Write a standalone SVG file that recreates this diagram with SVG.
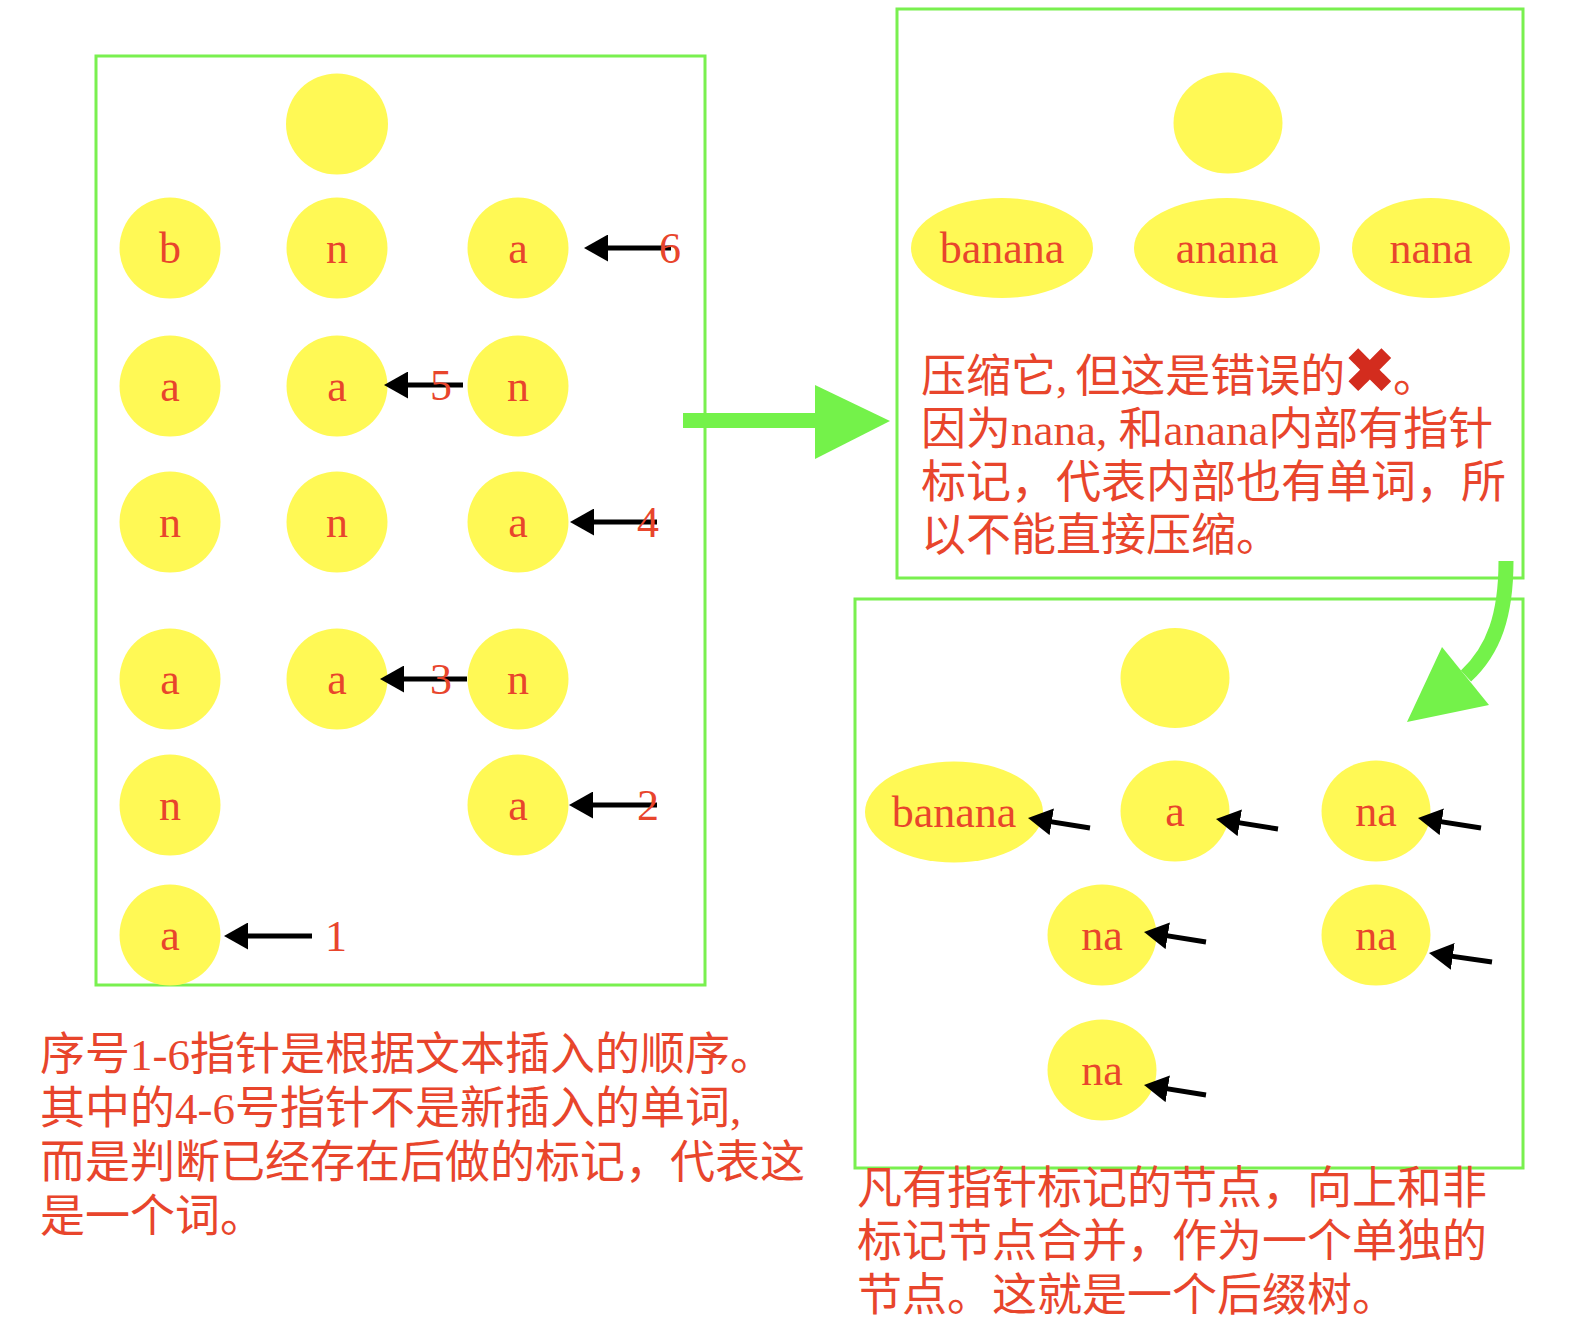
<svg xmlns="http://www.w3.org/2000/svg" width="1582" height="1339" viewBox="0 0 1582 1339">
<style>
.box{fill:none;stroke:#79F04F;stroke-width:3}
.nd{fill:#FFF955}
.lb{font-family:'Liberation Serif','Times New Roman',serif;font-size:44px;fill:#E8452C;text-anchor:middle}
.num{font-family:'Liberation Serif','Times New Roman',serif;font-size:44px;fill:#E8452C;text-anchor:middle}
.cap{font-family:'Liberation Serif','Noto Sans CJK SC',serif;font-size:45px;fill:#E8452C}
.ptr{stroke:#000;stroke-width:5;fill:none;marker-end:url(#ah)}
.big{fill:#74F24A}
.bigs{fill:none;stroke:#74F24A;stroke-width:15}
</style>
<defs>
<marker id="ah" markerUnits="userSpaceOnUse" markerWidth="24" markerHeight="27" refX="14" refY="13.5" orient="auto" viewBox="0 0 24 27">
<path d="M0,0 L24,13.5 L0,27 z" fill="#000"/>
</marker>
</defs>
<rect width="1582" height="1339" fill="#fff"/>

<g id="frames">
<rect id="box-trie" class="box" x="96" y="56" width="609" height="929"/>
<rect id="box-wrong" class="box" x="897" y="9" width="626" height="569"/>
<rect id="box-suffix" class="box" x="855" y="599" width="668" height="569"/>
</g>

<g id="trie">
<g id="t-root"><ellipse class="nd" cx="337" cy="124" rx="51" ry="50.5"/></g>
<g id="t-r1-b"><ellipse class="nd" cx="170" cy="248" rx="50.5" ry="50.5"/><text class="lb" x="170" y="263">b</text></g>
<g id="t-r1-n"><ellipse class="nd" cx="337" cy="248" rx="50.5" ry="50.5"/><text class="lb" x="337" y="263">n</text></g>
<g id="t-r1-a"><ellipse class="nd" cx="518" cy="248" rx="50.5" ry="50.5"/><text class="lb" x="518" y="263">a</text></g>
<g id="t-r2-a1"><ellipse class="nd" cx="170" cy="386" rx="50.5" ry="50.5"/><text class="lb" x="170" y="401">a</text></g>
<g id="t-r2-a2"><ellipse class="nd" cx="337" cy="386" rx="50.5" ry="50.5"/><text class="lb" x="337" y="401">a</text></g>
<g id="t-r2-n"><ellipse class="nd" cx="518" cy="386" rx="50.5" ry="50.5"/><text class="lb" x="518" y="401">n</text></g>
<g id="t-r3-n1"><ellipse class="nd" cx="170" cy="522" rx="50.5" ry="50.5"/><text class="lb" x="170" y="537">n</text></g>
<g id="t-r3-n2"><ellipse class="nd" cx="337" cy="522" rx="50.5" ry="50.5"/><text class="lb" x="337" y="537">n</text></g>
<g id="t-r3-a"><ellipse class="nd" cx="518" cy="522" rx="50.5" ry="50.5"/><text class="lb" x="518" y="537">a</text></g>
<g id="t-r4-a1"><ellipse class="nd" cx="170" cy="679" rx="50.5" ry="50.5"/><text class="lb" x="170" y="694">a</text></g>
<g id="t-r4-a2"><ellipse class="nd" cx="337" cy="679" rx="50.5" ry="50.5"/><text class="lb" x="337" y="694">a</text></g>
<g id="t-r4-n"><ellipse class="nd" cx="518" cy="679" rx="50.5" ry="50.5"/><text class="lb" x="518" y="694">n</text></g>
<g id="t-r5-n"><ellipse class="nd" cx="170" cy="805" rx="50.5" ry="50.5"/><text class="lb" x="170" y="820">n</text></g>
<g id="t-r5-a"><ellipse class="nd" cx="518" cy="805" rx="50.5" ry="50.5"/><text class="lb" x="518" y="820">a</text></g>
<g id="t-r6-a"><ellipse class="nd" cx="170" cy="935" rx="50.5" ry="50.5"/><text class="lb" x="170" y="950">a</text></g>
</g>

<g id="wrong">
<g id="w-root"><ellipse class="nd" cx="1228" cy="123" rx="54.5" ry="50.5"/></g>
<g id="w-banana"><ellipse class="nd" cx="1002" cy="248" rx="91" ry="50"/><text class="lb" x="1002" y="263">banana</text></g>
<g id="w-anana"><ellipse class="nd" cx="1227" cy="248" rx="93" ry="50"/><text class="lb" x="1227" y="263">anana</text></g>
<g id="w-nana"><ellipse class="nd" cx="1431" cy="248" rx="79" ry="50"/><text class="lb" x="1431" y="263">nana</text></g>
</g>

<g id="suffix">
<g id="s-root"><ellipse class="nd" cx="1175" cy="678" rx="54.5" ry="50"/></g>
<g id="s-banana"><ellipse class="nd" cx="954" cy="812" rx="89" ry="50.5"/><text class="lb" x="954" y="827">banana</text></g>
<g id="s-a"><ellipse class="nd" cx="1175" cy="811" rx="54.5" ry="50.5"/><text class="lb" x="1175" y="826">a</text></g>
<g id="s-na1"><ellipse class="nd" cx="1376" cy="811" rx="54.5" ry="50.5"/><text class="lb" x="1376" y="826">na</text></g>
<g id="s-na2"><ellipse class="nd" cx="1102" cy="935" rx="54.5" ry="50.5"/><text class="lb" x="1102" y="950">na</text></g>
<g id="s-na3"><ellipse class="nd" cx="1376" cy="935" rx="54.5" ry="50.5"/><text class="lb" x="1376" y="950">na</text></g>
<g id="s-na4"><ellipse class="nd" cx="1102" cy="1070" rx="54.5" ry="50.5"/><text class="lb" x="1102" y="1085">na</text></g>
</g>

<g id="connectors">
<line class="ptr" x1="671" y1="248" x2="594" y2="248"/>
<line class="ptr" x1="463" y1="385" x2="394" y2="385"/>
<line class="ptr" x1="657" y1="522" x2="580" y2="522"/>
<line class="ptr" x1="467" y1="679" x2="390" y2="679"/>
<line class="ptr" x1="657" y1="805" x2="579" y2="805"/>
<line class="ptr" x1="312" y1="936" x2="234" y2="936"/>

<line class="ptr" x1="1090" y1="828" x2="1037.9" y2="819.6"/>
<line class="ptr" x1="1278" y1="829" x2="1225.9" y2="820.6"/>
<line class="ptr" x1="1481" y1="828" x2="1427.9" y2="819.6"/>
<line class="ptr" x1="1206" y1="942" x2="1153.9" y2="933.6"/>
<line class="ptr" x1="1492" y1="962" x2="1438.9" y2="954.4"/>
<line class="ptr" x1="1206" y1="1095" x2="1153.9" y2="1086.6"/>

<g id="arrow-compress">
<rect class="big" x="683" y="413" width="134" height="15"/>
<polygon class="big" points="815,385 890,421 815,459"/>
</g>
<g id="arrow-merge">
<path class="bigs" d="M1506,561 C1506,615 1494,650 1466,676"/>
<polygon class="big" points="1442,647 1407,722 1489,705"/>
</g>
</g>

<g id="pointer-labels">
<text class="num" x="670" y="263">6</text>
<text class="num" x="441" y="400">5</text>
<text class="num" x="648" y="537">4</text>
<text class="num" x="441" y="694">3</text>
<text class="num" x="648" y="820">2</text>
<text class="num" x="336" y="951">1</text>
</g>

<g id="note-wrong" class="cap">
<text x="921" y="392">压缩它,<tspan dx="8">但这是错误的</tspan><tspan x="1343" y="393" font-family="'DejaVu Sans',sans-serif" font-size="64" fill="#D32C1E">✖</tspan><tspan x="1393" y="392">。</tspan></text>
<text x="921" y="445">因为nana, 和anana内部有指针</text>
<text x="921" y="498">标记，代表内部也有单词，所</text>
<text x="921" y="551">以不能直接压缩。</text>
</g>

<g id="note-trie" class="cap">
<text x="40" y="1070">序号1-6指针是根据文本插入的顺序。</text>
<text x="40" y="1124">其中的4-6号指针不是新插入的单词,</text>
<text x="40" y="1178">而是判断已经存在后做的标记，代表这</text>
<text x="40" y="1232">是一个词。</text>
</g>

<g id="note-suffix" class="cap">
<text x="857" y="1204">凡有指针标记的节点，向上和非</text>
<text x="857" y="1257">标记节点合并，作为一个单独的</text>
<text x="857" y="1311">节点。这就是一个后缀树。</text>
</g>
</svg>
